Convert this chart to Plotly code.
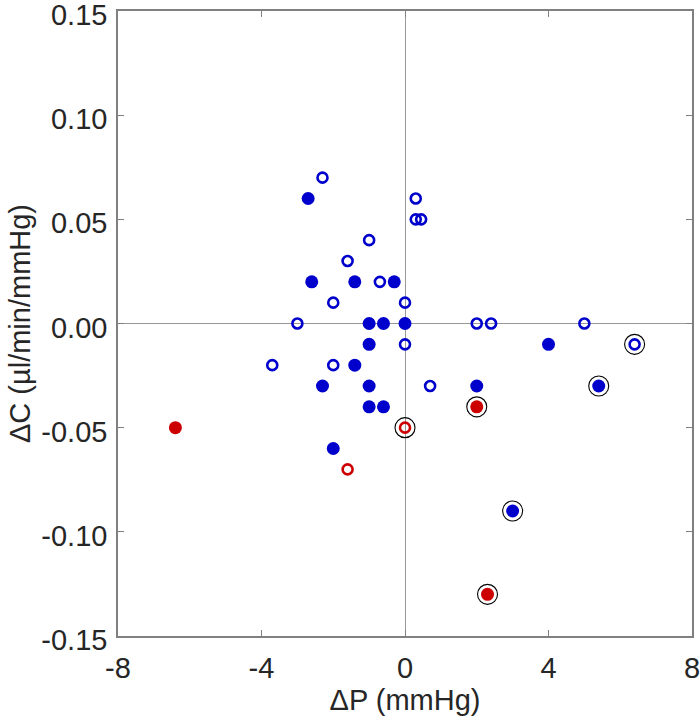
import plotly.graph_objects as go

# Blue, open markers
blue_open_x = [-2.3, 0.3, 0.3, 0.45, -1.0, -1.6, -0.7, -2.0, 0.0, -3.0, 0.0, -3.7, -2.0, 0.7, 2.0, 2.4, 5.0, 6.4]
blue_open_y = [0.07, 0.06, 0.05, 0.05, 0.04, 0.03, 0.02, 0.01, 0.01, 0.00, -0.01, -0.02, -0.02, -0.03, 0.00, 0.00, 0.00, -0.01]
# Blue, filled markers
blue_fill_x = [-2.7, -2.6, -1.4, -0.3, -1.0, -0.6, 0.0, -1.0, -1.4, -2.3, -1.0, -1.0, -0.6, -2.0, 2.0, 4.0, 5.4, 3.0]
blue_fill_y = [0.06, 0.02, 0.02, 0.02, 0.00, 0.00, 0.00, -0.01, -0.02, -0.03, -0.03, -0.04, -0.04, -0.06, -0.03, -0.01, -0.03, -0.09]
# Red, filled markers
red_fill_x = [-6.4, 2.0, 2.3]
red_fill_y = [-0.05, -0.04, -0.13]
# Red, open markers
red_open_x = [-1.6, 0.0]
red_open_y = [-0.07, -0.05]
# Circled (highlighted) points
ring_x = [0.0, 2.0, 2.3, 3.0, 5.4, 6.4]
ring_y = [-0.05, -0.04, -0.13, -0.09, -0.03, -0.01]

x_ticks = [-8, -4, 0, 4, 7.9999]
x_ticktext = ["-8", "-4", "0", "4", "8"]
y_ticks = [-0.15, -0.10, -0.05, 0.00, 0.05, 0.10, 0.1499999]
y_ticktext = ["-0.15", "-0.10", "-0.05", "0.00", "0.05", "0.10", "0.15"]

BLUE = "#0000CC"
RED = "#CC0000"

fig = go.Figure()
fig.add_trace(go.Scatter(x=ring_x, y=ring_y, mode="markers",
                         marker=dict(symbol="circle-open", size=20, color="black", line=dict(width=1.1))))
fig.add_trace(go.Scatter(x=blue_fill_x, y=blue_fill_y, mode="markers",
                         marker=dict(symbol="circle", size=13, color=BLUE, line=dict(width=0))))
fig.add_trace(go.Scatter(x=red_fill_x, y=red_fill_y, mode="markers",
                         marker=dict(symbol="circle", size=13, color=RED, line=dict(width=0))))
fig.add_trace(go.Scatter(x=blue_open_x, y=blue_open_y, mode="markers",
                         marker=dict(symbol="circle-open", size=10, color=BLUE, line=dict(width=2.6))))
fig.add_trace(go.Scatter(x=red_open_x, y=red_open_y, mode="markers",
                         marker=dict(symbol="circle-open", size=10, color=RED, line=dict(width=2.6))))

axis_common = dict(
    showgrid=False, automargin=False,
    zeroline=True, zerolinecolor="#999999", zerolinewidth=1,
    showline=True, linecolor="#808080", linewidth=1.5, mirror="ticks",
    ticks="inside", ticklen=6, tickcolor="#808080", tickwidth=1.2,
    ticklabeloverflow="allow",
    tickfont=dict(family="Liberation Sans", size=29, color="#262626"),
)

fig.update_layout(
    width=700, height=727,
    margin=dict(l=118, r=8, t=11, b=91, autoexpand=False),
    paper_bgcolor="white", plot_bgcolor="white",
    showlegend=False,
    xaxis=dict(range=[-8, 8], tickvals=x_ticks, ticktext=x_ticktext, ticklabelstandoff=5,
               title=dict(text="ΔP (mmHg)", font=dict(family="Liberation Sans", size=29, color="#262626"), standoff=6),
               **axis_common),
    yaxis=dict(range=[-0.15, 0.15], tickvals=y_ticks, ticktext=y_ticktext, ticklabelstandoff=3,
               ticklabelshift=4,
               title=dict(text="ΔC (µl/min/mmHg)", font=dict(family="Liberation Sans", size=29, color="#262626"), standoff=2),
               **axis_common),
)

fig.write_html("out.html", config={"displayModeBar": False},
               post_script="document.body.style.margin='0';")
